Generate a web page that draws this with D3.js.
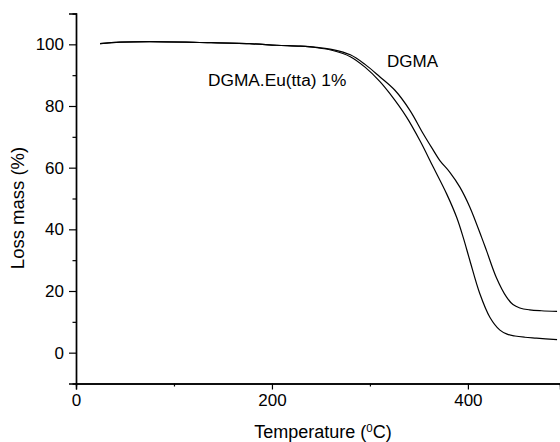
<!DOCTYPE html>
<html>
<head>
<meta charset="utf-8">
<script src="https://cdn.jsdelivr.net/npm/d3@7"></script>
<style>
  html, body { margin: 0; padding: 0; background: #fff; }
  svg { display: block; font-family: "Liberation Sans", Arial, sans-serif; }
</style>
</head>
<body>
<svg id="chart" width="560" height="442"></svg>
<script>
// Temperature (°C) / loss mass (%)
const tempDGMA = [24.5, 45, 75, 126, 177, 205, 229, 246, 262, 280, 295, 310, 325.5, 340.8, 354.4, 364, 371.4, 381.6, 391.8, 402, 414, 419, 429, 439.5, 446, 453, 463, 475, 491];
const massDGMA = [100.2, 100.7, 100.9, 100.6, 100.2, 99.7, 99.4, 99.0, 98.3, 96.6, 93.5, 89.5, 85.1, 78.6, 71.0, 66.0, 62.3, 58.5, 53.7, 47.2, 37.4, 33.1, 24.4, 18.0, 15.6, 14.5, 13.9, 13.6, 13.4];
const tempEu = [24.5, 45, 75, 126, 177, 205, 229, 246, 262, 280, 295, 310, 320.4, 337.4, 351, 364.6, 378.3, 388.5, 395.2, 402, 412.2, 422.4, 432.7, 440, 448, 458, 470, 491];
const massEu = [100.2, 100.7, 100.9, 100.6, 100.2, 99.7, 99.4, 98.9, 98.0, 96.0, 92.6, 88.0, 84.0, 76.4, 68.8, 60.2, 51.5, 43.9, 37.4, 29.9, 19.1, 11.5, 7.3, 6.0, 5.4, 5.0, 4.7, 4.2];
const xTicks = [0, 200, 400];
const xMinorTicks = [100, 300];
const yTicks = [0, 20, 40, 60, 80, 100];
const yMinorTicks = [10, 30, 50, 70, 90];
const labels = ["DGMA", "DGMA.Eu(tta) 1%"];

const svg = d3.select("#chart");
const x = d3.scaleLinear().domain([0, 494]).range([76, 560]);
const y = d3.scaleLinear().domain([-10, 110]).range([383.5, 13.5]);

// axes
const xAxis = d3.axisBottom(x).tickValues(xTicks).tickSize(6).tickPadding(4).tickFormat(d3.format("d"));
const xMinor = d3.axisBottom(x).tickValues(xMinorTicks).tickSize(3).tickFormat("");
const yAxis = d3.axisLeft(y).tickValues(yTicks).tickSize(7).tickPadding(5).tickFormat(d3.format("d"));
const yMinor = d3.axisLeft(y).tickValues(yMinorTicks).tickSize(3.5).tickFormat("");

function styleAxis(g) {
  g.select(".domain").attr("stroke", "#000").attr("stroke-width", 1.4);
  g.selectAll(".tick line").attr("stroke", "#000").attr("stroke-width", 1.2);
  g.selectAll(".tick text").attr("fill", "#000").style("font-size", "17px").style("font-family", "Liberation Sans, Arial, sans-serif");
}

svg.append("g").attr("transform", `translate(0,${y(-10)})`).call(xMinor).call(styleAxis);
svg.append("g").attr("transform", `translate(0,${y(-10)})`).call(xAxis).call(styleAxis);
svg.append("g").attr("transform", `translate(${x(0)},0)`).call(yMinor).call(styleAxis);
svg.append("g").attr("transform", `translate(${x(0)},0)`).call(yAxis).call(styleAxis);

// curves
const line = d3.line().x(d => x(d[0])).y(d => y(d[1])).curve(d3.curveCatmullRom.alpha(0.5));
const dataDGMA = tempDGMA.map((t, i) => [t, massDGMA[i]]);
const dataEu = tempEu.map((t, i) => [t, massEu[i]]);
[dataDGMA, dataEu].forEach(d => {
  svg.append("path").datum(d).attr("d", line)
    .attr("fill", "none").attr("stroke", "#000").attr("stroke-width", 1.2);
});

// curve labels
svg.append("text").attr("x", 387).attr("y", 67).style("font-size", "17px").text(labels[0]);
svg.append("text").attr("x", 208).attr("y", 86).style("font-size", "17.3px").text(labels[1]);

// axis titles
const xt = svg.append("text").attr("x", 323).attr("y", 438).attr("text-anchor", "middle").style("font-size", "18px");
xt.append("tspan").text("Temperature (");
xt.append("tspan").attr("dy", -6.5).style("font-size", "11.5px").text("0");
xt.append("tspan").attr("dy", 6.5).text("C)");

svg.append("text").attr("transform", "translate(24,208) rotate(-90)").attr("text-anchor", "middle")
  .style("font-size", "18.5px").text("Loss mass (%)");
</script>
</body>
</html>
